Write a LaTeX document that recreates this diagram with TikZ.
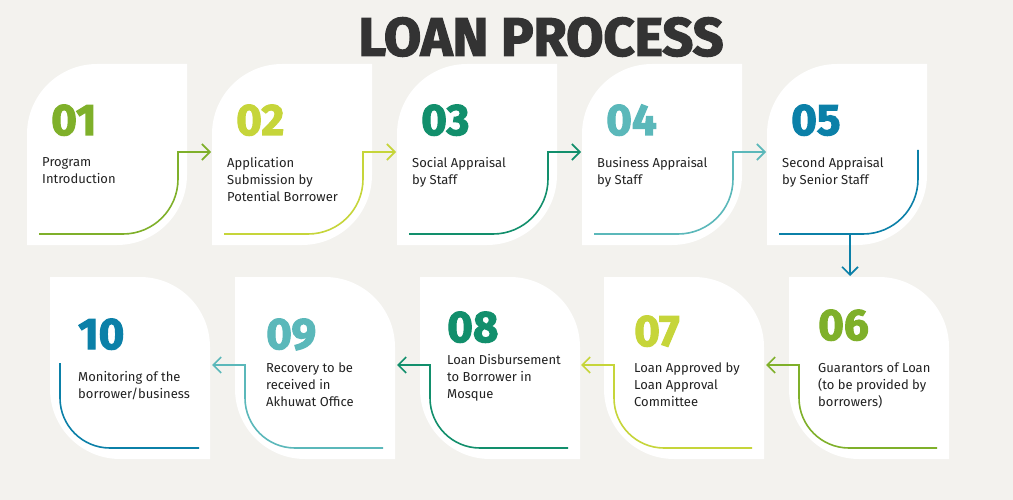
\documentclass[tikz,border=0pt]{standalone}
\usepackage{fontspec}
\setmainfont{Fira Sans}
\newfontfamily\heavyfont{Fira Sans}[BoldFeatures={FakeBold=2.5}]
\usetikzlibrary{arrows.meta}
\definecolor{bg}{HTML}{F3F2EE}
\definecolor{cgreen}{HTML}{7FB02A}
\definecolor{clime}{HTML}{C6D53A}
\definecolor{cteal}{HTML}{128F6C}
\definecolor{clteal}{HTML}{5BB8BA}
\definecolor{cblue}{HTML}{0B80A8}
\definecolor{titlegray}{HTML}{333333}
\definecolor{txt}{HTML}{222222}
\tikzset{
  num/.style={anchor=base west, inner sep=0pt, font=\heavyfont\bfseries\fontsize{44}{44}\selectfont},
  lbl/.style={anchor=north west, inner sep=0pt, align=left, text=txt, font=\fontsize{13}{17}\selectfont},
  conn/.style={line width=1.6pt},
  tip/.style={-{Straight Barb[length=8pt,width=16pt]}},
}
% top card: #1 left x, #2 colour, #3 number, #4 text
\newcommand{\topcard}[4]{%
  \fill[white] (#1,245) -- (#1,134) .. controls (#1,95.4) and (#1+31.4,64) .. (#1+70,64)
     -- (#1+160,64) -- (#1+160,175) .. controls (#1+160,213.6) and (#1+128.6,245) .. (#1+90,245) -- cycle;
  \node[num,text=#2] (n#3) at (#1+24,135) {#3};
  \node[lbl] (t#3) at (#1+15,157) {#4};
}
% bottom card shape: #1 left x
\newcommand{\botcard}[1]{%
  \fill[white] (#1,277) -- (#1+90,277) .. controls (#1+128.6,277) and (#1+160,308.4) .. (#1+160,347)
     -- (#1+160,459) -- (#1+70,459) .. controls (#1+31.4,459) and (#1,427.6) .. (#1,389) -- cycle;
}
\newcommand{\bottext}[6]{% #1 x, #2 colour, #3 number, #4 text, #5 num baseline, #6 text top
  \node[num,text=#2] (n#3) at (#1,#5) {#3};
  \node[lbl] (t#3) at (#1,#6) {#4};
}
\begin{document}
\begin{tikzpicture}[x=1pt,y=-1pt]
\useasboundingbox (0,0) rectangle (1013,500);
\fill[bg] (0,0) rectangle (1013,500);
\node[inner sep=0pt, text=titlegray, font=\heavyfont\bfseries\fontsize{54}{54}\selectfont] (title) at (541,37) {LOAN PROCESS};

\topcard{27}{cgreen}{01}{Program\\Introduction}
\topcard{212}{clime}{02}{Application\\Submission by\\Potential Borrower}
\topcard{397}{cteal}{03}{Social Appraisal\\by Staff}
\topcard{582}{clteal}{04}{Business Appraisal\\by Staff}
\topcard{767}{cblue}{05}{Second Appraisal\\by Senior Staff}

\botcard{789}
\botcard{604}
\botcard{420}
\botcard{235}
\botcard{50}

\bottext{818}{cgreen}{06}{Guarantors of Loan\\(to be provided by\\borrowers)}{340}{363}
\bottext{634}{clime}{07}{Loan Approved by\\Loan Approval\\Committee}{346}{363}
\bottext{447}{cteal}{08}{Loan Disbursement\\to Borrower in\\Mosque}{342}{354}
\bottext{266}{clteal}{09}{Recovery to be\\received in\\Akhuwat Office}{349}{363}
\bottext{78}{cblue}{10}{Monitoring of the\\borrower/business}{349}{371}

% top connectors
\foreach \L/\c/\k in {27/cgreen/1,212/clime/2,397/cteal/3,582/clteal/4}{
  \coordinate (s\k) at (\L+12,234);
  \coordinate (v\k) at (\L+151,152);
  \coordinate (e\k) at (\L+184,152);
  \draw[conn,\c,tip] (s\k) -- (\L+96,234) .. controls (\L+126.4,234) and (\L+151,209.4) .. (\L+151,179) -- (v\k) -- (e\k);
}
\coordinate (s5) at (779,234);
\coordinate (v5) at (918,150);
\coordinate (d5) at (850,234);
\coordinate (e5) at (850,276);
\draw[conn,cblue] (s5) -- (863,234) .. controls (893.4,234) and (918,209.4) .. (918,179) -- (v5);
\draw[conn,cblue,tip] (d5) -- (e5);

% bottom connectors
\foreach \L/\c/\k in {789/cgreen/6,604/clime/7,420/cteal/8,235/clteal/9}{
  \coordinate (s\k) at (\L+148,448);
  \coordinate (v\k) at (\L+10,365);
  \coordinate (e\k) at (\L-23,365);
  \draw[conn,\c,tip] (s\k) -- (\L+60,448) .. controls (\L+32.4,448) and (\L+10,425.6) .. (\L+10,398) -- (v\k) -- (e\k);
}
\coordinate (v10) at (60,363);
\coordinate (s10) at (199,448);
\draw[conn,cblue] (v10) -- (60,398) .. controls (60,425.6) and (82.4,448) .. (110,448) -- (s10);
\end{tikzpicture}
\end{document}
